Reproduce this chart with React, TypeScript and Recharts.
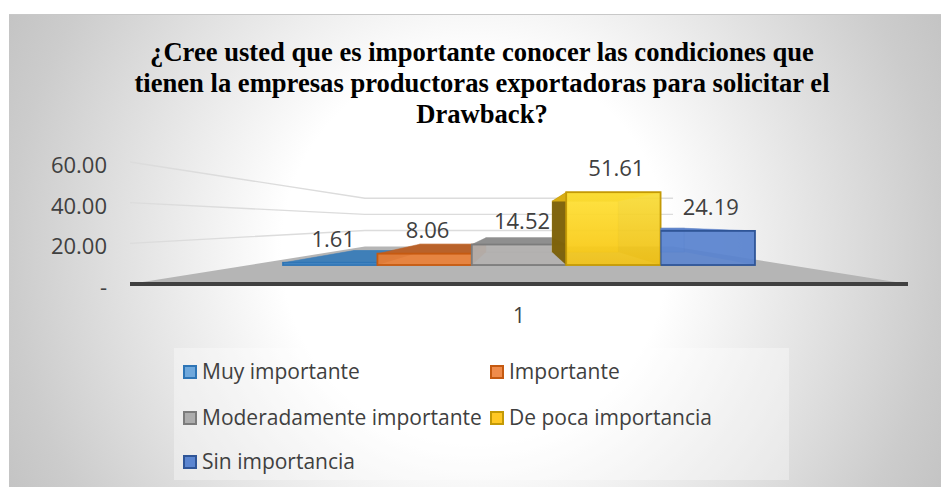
import React from "react";
import { Bar, BarChart, CartesianGrid, LabelList, Legend, XAxis, YAxis } from "recharts";

const categories = ["1"];
const seriesNames = ["Muy importante", "Importante", "Moderadamente importante", "De poca importancia", "Sin importancia"];
const seriesValues = [1.61, 8.06, 14.52, 51.61, 24.19];
const axisTicks = [0, 20, 40, 60];

const looks = [
  { front: "#5b9bd5", line: "#2e75b6", top: "#3f7fb8", side: "#2e75b6", chip: "#6fa8dc" },
  { front: "#ed7d31", line: "#c55a11", top: "#b9622a", side: "#c55a11", chip: "#f08c4b" },
  { front: "#b4b2b0", line: "#7c7c7c", top: "#8f8f8f", side: "#8c8c8c", chip: "#adadad" },
  { front: "#ffcf20", line: "#c49a06", top: "#d8ac12", side: "#7a5f08", chip: "#ffc824" },
  { front: "#5a84d0", line: "#2f5597", top: "#5a80c8", side: "#3a62ad", chip: "#5b85d0" },
];

const chartData = categories.map((name) => {
  const row: Record<string, string | number> = { name };
  seriesNames.forEach((s, i) => (row[s] = seriesValues[i]));
  return row;
});

const FONT = "'Open Sans', sans-serif";
const TEXT = "#404040";

// fake 3D: everything shrinks toward one vanishing point
const VX = 519;
const VY = 222;
const BAR_PLANE = 0.694; // front face of the bars, seen from the axis plane
const BAR_DEPTH = 0.7; // back face of the bars, seen from their front
const WALL = 0.396;
const shrink = (x: number, y: number, k: number) => [VX + k * (x - VX), VY + k * (y - VY)];
const pts = (list: number[][]) => list.map((p) => p.join(",")).join(" ");

function Box3D(props: any) {
  const { look, index } = props;
  const [x, y] = shrink(props.x, props.y, BAR_PLANE);
  const [r, b] = shrink(props.x + props.width, props.y + props.height, BAR_PLANE);
  const [bl, bt] = shrink(x, y, BAR_DEPTH);
  const [br, bb] = shrink(r, b, BAR_DEPTH);
  const clipId = "box-clip-" + index;
  const frontFill = index === 3 ? "url(#yellowFront)" : look.front;
  return (
    <g clipPath={index === 4 ? `url(#${clipId})` : undefined}>
      <defs>
        <clipPath id={clipId}>
          <rect x={x} y={0} width={400} height={487} />
        </clipPath>
        <linearGradient id="yellowFront" x1="0" y1="0" x2="0" y2="1">
          <stop offset="0%" stopColor="#ffe33a" />
          <stop offset="100%" stopColor="#f6c40f" />
        </linearGradient>
      </defs>
      <rect x={bl} y={bt} width={br - bl} height={bb - bt} fill={look.front} fillOpacity={0.55} stroke={look.line} strokeOpacity={0.35} />
      <polygon points={pts([[x, y], [bl, bt], [bl, bb], [x, b]])} fill={look.side} fillOpacity={x > VX ? 0.95 : 0.4} />
      <polygon points={pts([[r, y], [br, bt], [br, bb], [r, b]])} fill={look.side} fillOpacity={x > VX ? 0.4 : 0.7} />
      <polygon points={pts([[x, y], [r, y], [br, bt], [bl, bt]])} fill={look.top} stroke={look.top} strokeWidth={0.5} />
      <rect x={x} y={y} width={r - x} height={b - y} fill={frontFill} fillOpacity={0.88} stroke={look.line} strokeWidth={1.8} />
    </g>
  );
}

function WallLine(props: any) {
  const { x1, x2, y1 } = props;
  const [lx, ly] = shrink(x1, y1, WALL);
  const [rx] = shrink(x2, y1, WALL);
  if (Math.abs(y1 - 284) < 1) {
    return <polygon points={pts([[x1, y1], [x2, y1], shrink(x2, y1, WALL), shrink(x1, y1, WALL)])} fill="#b5b5b5" />;
  }
  return <polyline points={pts([[x1, y1], [lx, ly], [rx, ly]])} fill="none" stroke="#dcdcdc" strokeWidth={1.4} />;
}

const renderAxisTick = (props: any) => {
  const { x, y, payload } = props;
  return (
    <text x={x - 15} y={y + 2} textAnchor="end" dominantBaseline="central" fontFamily={FONT} fontSize={22} fill={TEXT}>
      {payload.value === 0 ? "-" : payload.value.toFixed(2)}
    </text>
  );
};

function ValueLabel(props: any) {
  const { x, y, width, value } = props;
  const [cx, top] = shrink(x + width / 2, y, BAR_PLANE);
  return (
    <text x={cx + 3} y={top - 25} textAnchor="middle" dominantBaseline="central" fontFamily={FONT} fontSize={22} fill={TEXT}>
      {Number(value).toFixed(2)}
    </text>
  );
}

function LegendBox() {
  const cols = [9, 316];
  const rows = [23, 69, 113];
  return (
    <div style={{ position: "relative", width: 615, height: 132, background: "rgba(255,255,255,0.35)", fontFamily: FONT, fontSize: 21, color: TEXT }}>
      {seriesNames.map((s, i) => (
        <div key={s} style={{ position: "absolute", left: cols[i % 2], top: rows[Math.floor(i / 2)] - 14, height: 28, lineHeight: "28px", whiteSpace: "nowrap" }}>
          <span style={{ position: "absolute", left: 0, top: 8, width: 10, height: 10, background: looks[i].chip, border: "2px solid " + looks[i].line }} />
          <span style={{ marginLeft: 19 }}>{s}</span>
        </div>
      ))}
    </div>
  );
}

export default function App() {
  return (
    <div style={{ position: "absolute", left: 0, top: 0, width: 941, height: 487, background: "#fff", overflow: "hidden" }}>
      <div
        style={{
          position: "absolute",
          left: 9,
          top: 14,
          width: 932,
          height: 473,
          borderTop: "1.5px solid #c8c8c8",
          boxSizing: "border-box",
          background: "radial-gradient(circle farthest-corner at 466px 236px, #ffffff 37%, #cccccc 89%, #c4c4c4 100%)",
        }}
      />
      <div
        style={{
          position: "absolute",
          left: 9,
          top: 37,
          width: 946,
          textAlign: "center",
          fontFamily: "'Liberation Serif', serif",
          fontWeight: "bold",
          fontSize: 26.6,
          lineHeight: "31px",
          color: "#000",
        }}
      >
        ¿Cree usted que es importante conocer las condiciones que
        <br />
        tienen la empresas productoras exportadoras para solicitar el
        <br />
        Drawback?
      </div>
      <BarChart
        width={941}
        height={487}
        data={chartData}
        margin={{ top: 162, right: 33, bottom: 143, left: 0 }}
        barSize={136}
        barGap={0}
        barCategoryGap={49}
        style={{ position: "absolute", left: 0, top: 0 }}
      >
        <CartesianGrid vertical={false} horizontal={(p: any) => <WallLine {...p} key={p.key} />} />
        <XAxis dataKey="name" height={60} axisLine={{ stroke: "#404040", strokeWidth: 4 }} tickLine={false} tickMargin={18} tick={{ fontFamily: FONT, fontSize: 21, fill: TEXT }} />
        <YAxis width={130} domain={[0, 60]} ticks={axisTicks} interval={0} axisLine={false} tickLine={false} tick={renderAxisTick} />
        {seriesNames.map((s, i) => (
          <Bar
            key={s}
            dataKey={s}
            isAnimationActive={false}
            fill={looks[i].front}
            shape={(p: any) => <Box3D {...p} look={looks[i]} index={i} />}
          >
            <LabelList dataKey={s} content={<ValueLabel />} />
          </Bar>
        ))}
        <Legend
          layout="horizontal"
          verticalAlign="middle"
          align="center"
          content={<LegendBox />}
          wrapperStyle={{ position: "absolute", left: 174, top: 348, width: 615, height: 132 }}
        />
      </BarChart>
    </div>
  );
}
